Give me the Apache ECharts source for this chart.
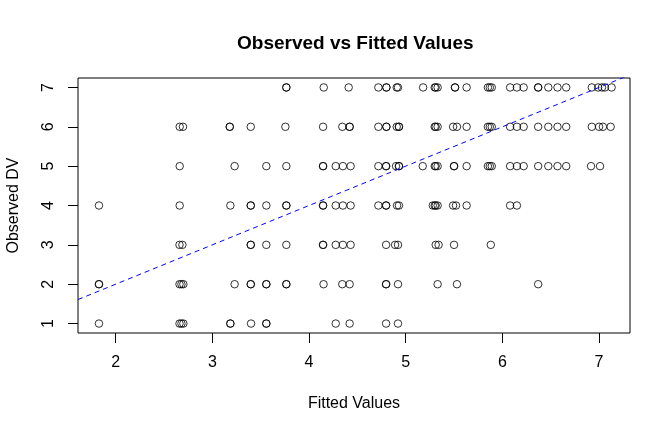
<!DOCTYPE html>
<html>
<head>
<meta charset="utf-8">
<script src="https://cdn.jsdelivr.net/npm/echarts@6/dist/echarts.min.js"></script>
<style>html,body{margin:0;padding:0;background:#fff;}#c{width:672px;height:432px;}</style>
</head>
<body>
<div id="c"></div>
<script>
// Fitted values for each observed DV level (1..7)
var fit7 = [3.765,3.765,4.152,4.41,4.717,4.80,4.80,4.907,4.92,5.18,5.30,5.31,5.33,5.51,5.51,5.63,5.85,5.87,5.89,6.08,6.15,6.22,6.37,6.37,6.475,6.57,6.66,6.925,6.99,7.03,7.06,7.13];
var fit6 = [2.662,2.696,3.18,3.18,3.397,3.755,4.145,4.344,4.42,4.42,4.717,4.80,4.80,4.907,4.93,4.93,5.30,5.31,5.33,5.49,5.53,5.63,5.85,5.87,5.89,6.08,6.15,6.22,6.37,6.475,6.57,6.66,6.925,7.0,7.04,7.12];
var fit5 = [2.662,3.23,3.558,3.765,4.145,4.145,4.276,4.35,4.43,4.717,4.797,4.797,4.90,4.93,4.93,5.176,5.30,5.31,5.33,5.50,5.50,5.63,5.85,5.87,5.89,6.08,6.15,6.22,6.37,6.475,6.57,6.66,6.917,7.01];
var fit4 = [1.827,2.662,3.186,3.397,3.397,3.558,3.765,3.765,4.145,4.145,4.276,4.35,4.43,4.717,4.797,4.797,4.91,4.93,5.28,5.30,5.31,5.33,5.49,5.52,5.63,6.08,6.15];
var fit3 = [2.66,2.69,3.397,3.397,3.558,3.765,4.145,4.145,4.276,4.35,4.43,4.797,4.89,4.92,5.31,5.34,5.50,5.88];
var fit2 = [1.827,1.827,2.66,2.68,2.70,3.23,3.397,3.397,3.558,3.558,3.765,3.765,4.15,4.344,4.42,4.797,4.797,4.92,5.33,5.53,6.37];
var fit1 = [1.827,2.66,2.68,2.70,3.186,3.186,3.40,3.558,3.558,4.276,4.42,4.797,4.92];
var observedLevels = [1,2,3,4,5,6,7];
var xTicks = [2,3,4,5,6,7];
var yTicks = [1,2,3,4,5,6,7];
// reference line y = intercept + slope * x
var ablineIntercept = 0;
var ablineSlope = 1;

var xMin = 1.61, xMax = 7.32, yMin = 0.76, yMax = 7.24;

var rows = [fit1, fit2, fit3, fit4, fit5, fit6, fit7];
var pts = [];
rows.forEach(function (r, i) {
  r.forEach(function (f) { pts.push([f, observedLevels[i]]); });
});
var linePts = [[xMin, ablineIntercept + ablineSlope * xMin], [xMax, ablineIntercept + ablineSlope * xMax]];

var FONT = '"Liberation Sans", Arial, Helvetica, sans-serif';
var chart = echarts.init(document.getElementById('c'), null, {renderer: 'canvas'});
chart.setOption({
  animation: false,
  backgroundColor: '#fff',
  title: {
    text: 'Observed vs Fitted Values',
    left: 232,
    top: 29,
    textStyle: {fontFamily: FONT, fontSize: 19, fontWeight: 'bold', color: '#000'}
  },
  grid: {left: 78, right: 42, top: 78, bottom: 99, outerBoundsMode: 'none', containLabel: false, show: true, borderColor: '#000', borderWidth: 1, backgroundColor: 'transparent'},
  xAxis: {
    type: 'value', min: xMin, max: xMax,
    splitLine: {show: false},
    axisLine: {show: false},
    axisTick: {show: true, length: 10, customValues: xTicks, lineStyle: {color: '#000', width: 1}},
    axisLabel: {customValues: xTicks, fontFamily: FONT, fontSize: 16, color: '#000', margin: 22},
    name: 'Fitted Values', nameLocation: 'middle', nameGap: 63,
    nameTextStyle: {fontFamily: FONT, fontSize: 16, color: '#000'}
  },
  yAxis: {
    type: 'value', min: yMin, max: yMax,
    splitLine: {show: false},
    axisLine: {show: false},
    axisTick: {show: true, length: 10, customValues: yTicks, lineStyle: {color: '#000', width: 1}},
    axisLabel: {customValues: yTicks, rotate: 90, fontFamily: FONT, fontSize: 16, color: '#000', margin: 21},
    name: 'Observed DV', nameLocation: 'middle', nameGap: 56, nameRotate: 90,
    nameTextStyle: {fontFamily: FONT, fontSize: 16, color: '#000'}
  },
  series: [
    {
      type: 'scatter', data: pts, symbol: 'circle', symbolSize: 7.5,
      itemStyle: {color: 'rgba(0,0,0,0)', borderColor: '#000', borderWidth: 1},
      emphasis: {disabled: true}, silent: true
    },
    {
      type: 'line', data: linePts, showSymbol: false, clip: true,
      lineStyle: {color: '#0000ff', width: 1, type: [5, 4]},
      emphasis: {disabled: true}, silent: true
    }
  ]
});
</script>
</body>
</html>
